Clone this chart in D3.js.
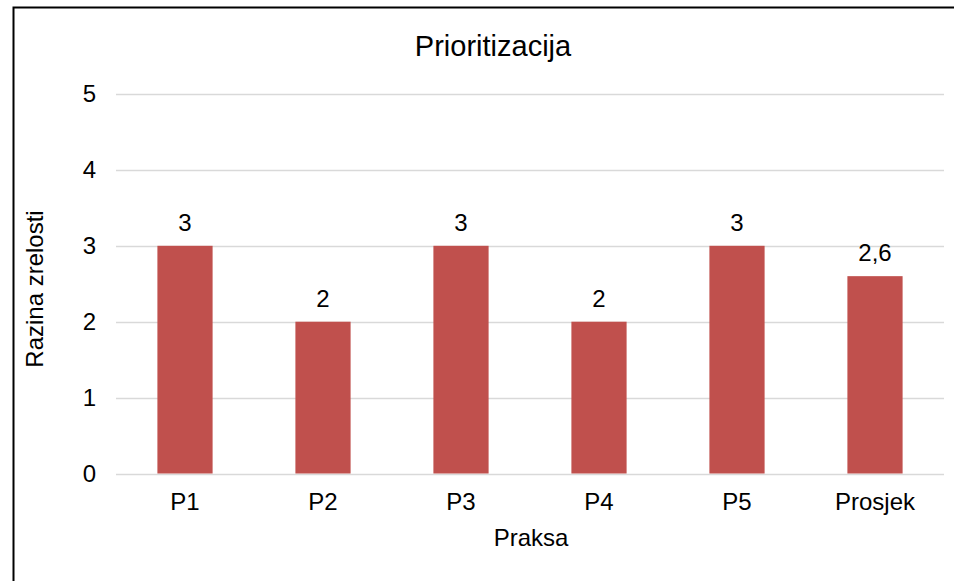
<!DOCTYPE html>
<html>
<head>
  <meta charset='utf-8'>
  <script src="https://d3js.org/d3.v7.min.js"></script>
  <style>
    body { margin: 0; background: #fff; }
    text { font-family: "Liberation Sans", Arial, sans-serif; fill: #000; }
  </style>
</head>
<body>
<div id="container"></div>
<script>
  // chart data
  var categories = ["P1", "P2", "P3", "P4", "P5", "Prosjek"];
  var values = [3, 2, 3, 2, 3, 2.6];
  var yTicks = [0, 1, 2, 3, 4, 5];

  var width = 956, height = 581;
  var svg = d3.select("#container").append("svg")
      .attr("width", width).attr("height", height);

  svg.append("rect").attr("width", width).attr("height", height).attr("fill", "#fff");

  // outer frame (right and bottom sides fall outside the picture)
  svg.append("path")
      .attr("d", "M13.5," + height + "V7.5H954")
      .attr("fill", "none").attr("stroke", "#000").attr("stroke-width", 2);

  var x = d3.scaleBand().domain(categories).range([116, 944]).paddingInner(0.6).paddingOuter(0.3);
  var y = d3.scaleLinear().domain([0, 5]).range([473.5, 94]);

  // gridlines
  svg.append("g").selectAll("line").data(yTicks).join("line")
      .attr("x1", 116).attr("x2", 944)
      .attr("y1", function(d) { return Math.round(y(d)) + 0.5; })
      .attr("y2", function(d) { return Math.round(y(d)) + 0.5; })
      .attr("stroke", "#d9d9d9").attr("stroke-width", 1.5);

  // y tick labels
  svg.append("g").selectAll("text").data(yTicks).join("text")
      .attr("x", 96).attr("y", function(d) { return y(d); })
      .attr("dy", "0.35em").attr("text-anchor", "end")
      .attr("font-size", 24).text(function(d) { return d; });

  // bars
  svg.append("g").selectAll("rect").data(values).join("rect")
      .attr("x", function(d, i) { return x(categories[i]); })
      .attr("width", x.bandwidth())
      .attr("y", function(d) { return y(d); })
      .attr("height", function(d) { return y(0) - y(d); })
      .attr("fill", "#c0504d");

  // data labels
  svg.append("g").selectAll("text").data(values).join("text")
      .attr("x", function(d, i) { return x(categories[i]) + x.bandwidth() / 2; })
      .attr("y", function(d) { return y(d) - 15; })
      .attr("text-anchor", "middle").attr("font-size", 24)
      .text(function(d) { return String(d).replace(".", ","); });

  // x tick labels
  svg.append("g").selectAll("text").data(categories).join("text")
      .attr("x", function(d) { return x(d) + x.bandwidth() / 2; })
      .attr("y", 510).attr("text-anchor", "middle").attr("font-size", 24)
      .text(function(d) { return d; });

  // titles
  svg.append("text").attr("x", 493).attr("y", 56).attr("text-anchor", "middle")
      .attr("font-size", 29).text("Prioritizacija");
  svg.append("text").attr("x", 531).attr("y", 546).attr("text-anchor", "middle")
      .attr("font-size", 24).text("Praksa");
  svg.append("text").attr("transform", "translate(43,289) rotate(-90)")
      .attr("text-anchor", "middle").attr("font-size", 24).text("Razina zrelosti");
</script>
</body>
</html>
